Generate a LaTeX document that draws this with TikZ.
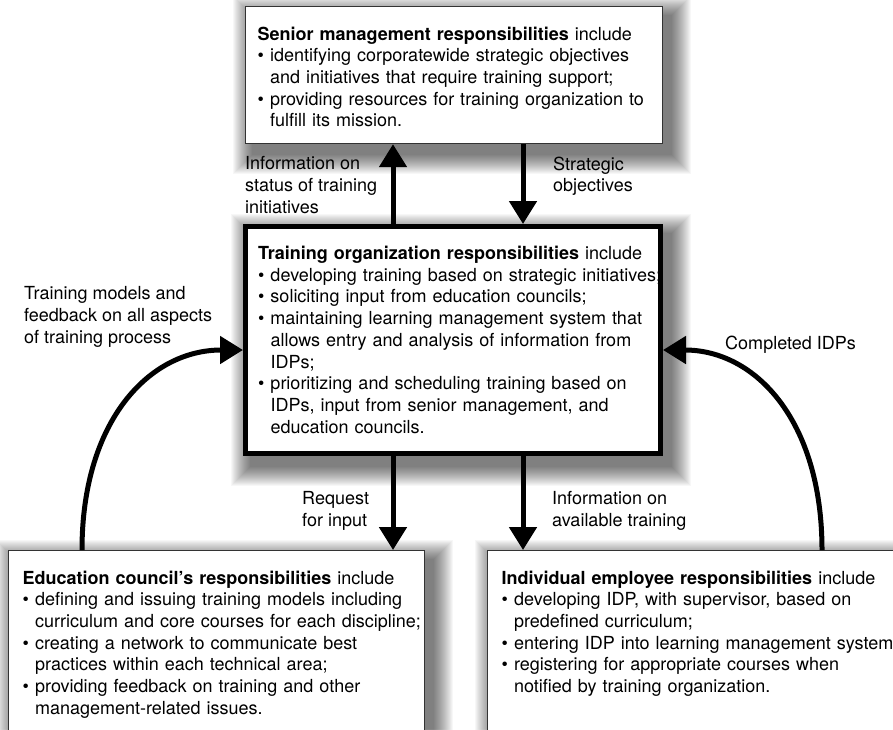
\documentclass[tikz,border=0pt]{standalone}
\usepackage{fontspec}
\setmainfont{TeX Gyre Heros}
\usetikzlibrary{arrows.meta,calc,backgrounds}
\newcommand{\boxin}[1]{\leftskip=#1\relax\rightskip=-20pt plus 1fil\relax}
\newcommand{\bul}{\par\hangindent=12.5pt\hangafter=1\noindent\makebox[12.5pt][l]{\textbullet}}
\newcommand{\boxshadow}[1]{\begin{scope}[on background layer]
  \foreach \i in {1,...,20} \fill[black, opacity=0.03] ($(#1.north west)+(8-\i,10-\i)$) rectangle ($(#1.south east)+(8+\i,10+\i)$);
  \end{scope}}
\tikzset{
  every node/.style={font=\fontsize{18}{21.7}\selectfont},
  resp/.style={draw=black!80, line width=1.2pt, fill=white, inner sep=0pt, align=left},
  flow/.style={line width=5pt, -{Triangle[length=23pt,width=27pt]}},
  note/.style={inner sep=0pt, align=left}
}

\begin{document}
\begin{tikzpicture}[x=1pt,y=-1pt]
			%%%%% START %%%%%
			\useasboundingbox (0,0) rectangle (893,729);
			\begin{scope}[on background layer]
			\fill[white] (0,0) rectangle (893,729);
			\end{scope}
			
			\coordinate (lx) at (393,0);
			\coordinate (rx) at (523,0);
			\coordinate (cl) at (82,0);
			\coordinate (cr) at (822,0);
			\coordinate (cy) at (0,350);
			
			\node[resp, anchor=north west, text width=417pt, text height=33.5pt, text depth=103.5pt] (senior) at (245,6)
			{\boxin{12pt}\textbf{Senior management responsibilities} include
			\bul identifying corporatewide strategic objectives\newline and initiatives that require training support;
			\bul providing resources for training organization to\newline fulfill its mission.\par};
			
			\node[resp, draw=black, line width=5pt, anchor=north west, text width=415pt, text height=33pt, text depth=194pt] (train) at (243,224)
			{\boxin{12.5pt}\textbf{Training organization responsibilities} include
			\bul developing training based on strategic initiatives;
			\bul soliciting input from education councils;
			\bul maintaining learning management system that\newline allows entry and analysis of information from\newline IDPs;
			\bul prioritizing and scheduling training based on\newline IDPs, input from senior management, and\newline education councils.\par};
			
			\node[resp, anchor=north west, text width=416pt, text height=33.5pt, text depth=250pt] (edu) at (8,550)
			{\boxin{14pt}\textbf{Education council’s responsibilities} include
			\bul defining and issuing training models including\newline curriculum and core courses for each discipline;
			\bul creating a network to communicate best\newline practices within each technical area;
			\bul providing feedback on training and other\newline management-related issues.\par};
			
			\node[resp, anchor=north west, text width=430pt, text height=33.5pt, text depth=250pt] (emp) at (487,550)
			{\boxin{14pt}\textbf{Individual employee responsibilities} include
			\bul developing IDP, with supervisor, based on\newline predefined curriculum;
			\bul entering IDP into learning management system
			\bul registering for appropriate courses when\newline notified by training organization.\par};
			
			% soft shadows
			\boxshadow{senior}
			\boxshadow{train}
			\boxshadow{edu}
			\boxshadow{emp}
			
			% labels
			\node[note, anchor=north west] (status) at (245,156.5) {Information on\\status of training\\initiatives};
			\node[note, anchor=north west] (strat) at (553,156.5) {Strategic\\objectives};
			\node[note, anchor=north west] (models) at (24,286.5) {Training models and\\feedback on all aspects\\of training process};
			\node[note, anchor=north west] (idps) at (725,335.5) {Completed IDPs};
			\node[note, anchor=north west] (req) at (302,491.5) {Request\\for input};
			\node[note, anchor=north west] (avail) at (552,491.5) {Information on\\available training};
			
			% arrows
			\draw[flow] (train.north -| lx) -- (senior.south -| lx);
			\draw[flow] (senior.south -| rx) -- (train.north -| rx);
			\draw[flow] (train.south -| lx) -- (edu.north -| lx);
			\draw[flow] (train.south -| rx) -- (emp.north -| rx);
			\draw[flow] (edu.north -| cl) .. controls +(0,-130) and +(-93,0) .. (train.west |- cy);
			\draw[flow] (emp.north -| cr) .. controls +(0,-130) and +(92,0) .. (train.east |- cy);
			
			%%%%% END %%%%%
\end{tikzpicture}
\end{document}
